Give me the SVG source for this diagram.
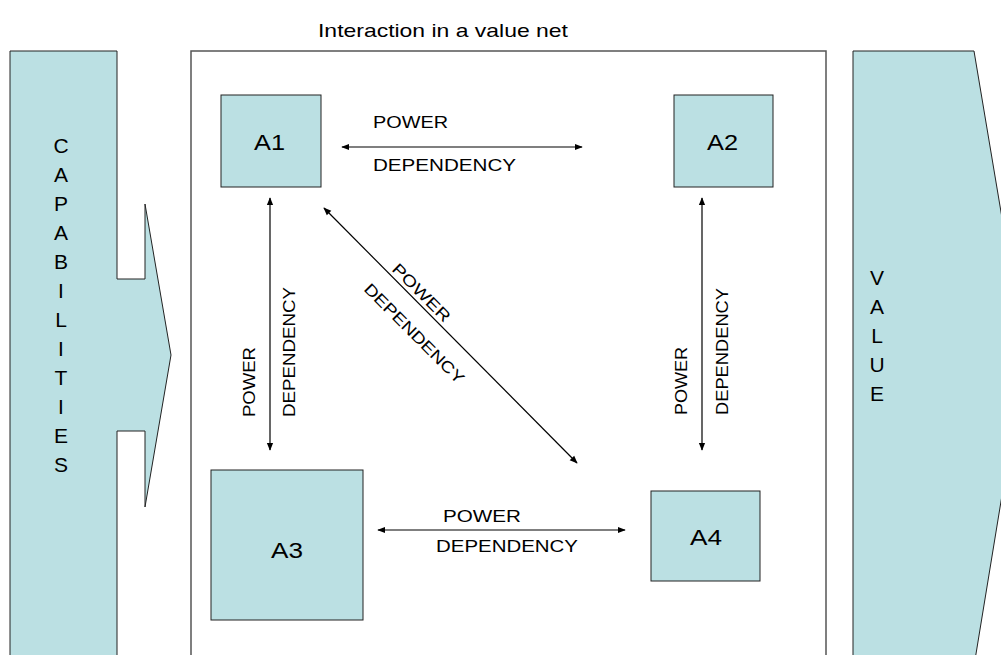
<svg xmlns="http://www.w3.org/2000/svg" width="1001" height="655" viewBox="0 0 1001 655">
<style>
.shape{fill:#BBE0E3;stroke:#222;stroke-width:1}
.t{font-family:"Liberation Sans",Arial,sans-serif;fill:#000}
.lbl{font-size:16px}
.node{font-size:22px}
.big{font-size:21px;text-anchor:middle}
.conn{stroke:#000;stroke-width:1.2;fill:none;marker-start:url(#ah);marker-end:url(#ah)}
</style>
<defs>
<marker id="ah" viewBox="0 0 10 10" refX="9" refY="5" markerWidth="8" markerHeight="8" markerUnits="userSpaceOnUse" orient="auto-start-reverse">
<path d="M0,1 L10,5 L0,9 Z" fill="#000"/>
</marker>
</defs>
<rect width="1001" height="655" fill="#fff"/>
<text class="t" x="318" y="37" font-size="19" textLength="250" lengthAdjust="spacingAndGlyphs">Interaction in a value net</text>

<g id="capabilities">
<path class="shape" d="M10,51 H117 V279 H145 V204 L171,355 L145,507 V431 H117 V660 H10 Z"/>
<text class="t big">
<tspan x="61" y="153">C</tspan><tspan x="61" y="182">A</tspan><tspan x="61" y="211">P</tspan><tspan x="61" y="240">A</tspan><tspan x="61" y="269">B</tspan><tspan x="61" y="298">I</tspan><tspan x="61" y="327">L</tspan><tspan x="61" y="356">I</tspan><tspan x="61" y="385">T</tspan><tspan x="61" y="414">I</tspan><tspan x="61" y="443">E</tspan><tspan x="61" y="472">S</tspan>
</text>
</g>

<g id="frame">
<rect x="191" y="51" width="635" height="620" fill="none" stroke="#555" stroke-width="1.5"/>
</g>

<g id="value">
<path class="shape" d="M853,51 H974 L1025,355 L975,660 H853 Z"/>
<text class="t big">
<tspan x="877" y="285">V</tspan><tspan x="877" y="314">A</tspan><tspan x="877" y="343">L</tspan><tspan x="877" y="372">U</tspan><tspan x="877" y="401">E</tspan>
</text>
</g>

<g id="A1"><rect class="shape" x="221" y="95" width="100" height="92"/><text class="t node" x="254" y="150" textLength="31" lengthAdjust="spacingAndGlyphs">A1</text></g>
<g id="A2"><rect class="shape" x="674" y="95" width="99" height="92"/><text class="t node" x="707" y="150" textLength="31" lengthAdjust="spacingAndGlyphs">A2</text></g>
<g id="A3"><rect class="shape" x="211" y="470" width="152" height="150"/><text class="t node" x="271" y="558" textLength="32" lengthAdjust="spacingAndGlyphs">A3</text></g>
<g id="A4"><rect class="shape" x="651" y="491" width="109" height="90"/><text class="t node" x="690" y="545" textLength="32" lengthAdjust="spacingAndGlyphs">A4</text></g>

<g id="connectors">
<line class="conn" x1="342" y1="147" x2="582" y2="147"/>
<line class="conn" x1="378" y1="530" x2="625" y2="530"/>
<line class="conn" x1="270" y1="198" x2="270" y2="450"/>
<line class="conn" x1="702" y1="198" x2="702" y2="450"/>
<line class="conn" x1="324" y1="208" x2="577" y2="463"/>
</g>

<g id="labels">
<text class="t lbl" x="373" y="128" textLength="75" lengthAdjust="spacingAndGlyphs">POWER</text>
<text class="t lbl" x="373" y="171" textLength="143" lengthAdjust="spacingAndGlyphs">DEPENDENCY</text>
<text class="t lbl" x="443" y="522" textLength="78" lengthAdjust="spacingAndGlyphs">POWER</text>
<text class="t lbl" x="436" y="552" textLength="142" lengthAdjust="spacingAndGlyphs">DEPENDENCY</text>
<text class="t lbl" transform="translate(255,417) rotate(-90)" textLength="70" lengthAdjust="spacingAndGlyphs">POWER</text>
<text class="t lbl" transform="translate(295,417) rotate(-90)" textLength="130" lengthAdjust="spacingAndGlyphs">DEPENDENCY</text>
<text class="t lbl" transform="translate(687,415) rotate(-90)" textLength="68" lengthAdjust="spacingAndGlyphs">POWER</text>
<text class="t lbl" transform="translate(728,415) rotate(-90)" textLength="127" lengthAdjust="spacingAndGlyphs">DEPENDENCY</text>
<text class="t lbl" transform="translate(391,270) rotate(45)" textLength="75" lengthAdjust="spacingAndGlyphs">POWER</text>
<text class="t lbl" transform="translate(363,290) rotate(45)" textLength="134" lengthAdjust="spacingAndGlyphs">DEPENDENCY</text>
</g>
</svg>
